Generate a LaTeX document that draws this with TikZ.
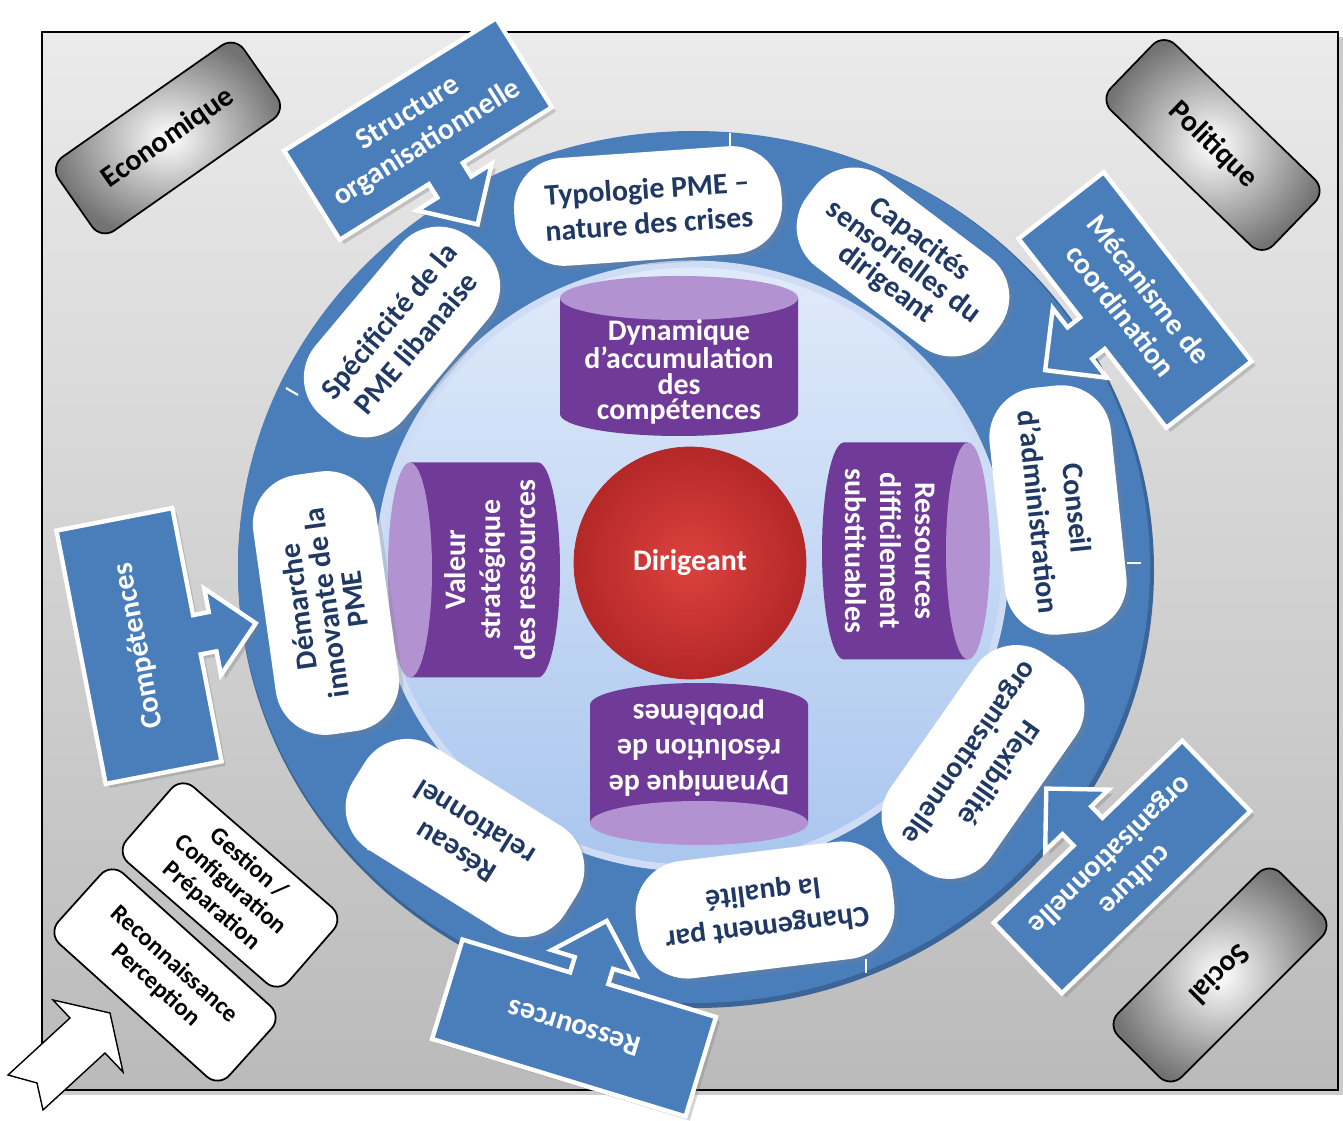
\documentclass[tikz,border=0pt]{standalone}
\usepackage{fontspec}
\setmainfont{Carlito}
\usetikzlibrary{shadows}

\definecolor{ringblue}{RGB}{74,126,187}
\definecolor{pillnavy}{RGB}{31,56,100}
\definecolor{cylbody}{RGB}{112,58,152}
\definecolor{cylend}{RGB}{178,146,208}
\definecolor{discrim}{RGB}{206,221,245}
\definecolor{disctop}{RGB}{224,234,250}
\definecolor{discbot}{RGB}{170,198,238}
\definecolor{redin}{RGB}{220,66,62}
\definecolor{redout}{RGB}{180,40,40}

\newlength{\pxu}\setlength{\pxu}{0.02cm}

% blue box with an arrow leaving its lower side
\newcommand{\bluecallout}[7]{%
  \begin{scope}[shift={(#2,#3)},rotate=#4]
    \filldraw[callbox] (-#5/2,#6/2) -- (#5/2,#6/2) -- (#5/2,-#6/2)
      -- (20,-#6/2) -- (20,-#6/2-16) -- (44,-#6/2-16) -- (0,-#6/2-60)
      -- (-44,-#6/2-16) -- (-20,-#6/2-16) -- (-20,-#6/2) -- (-#5/2,-#6/2) -- cycle;
    \node[calltext,rotate=#4] (#1) at (0,0) {#7};
  \end{scope}}

% purple cylinder, its lid on the local top side
\newcommand{\purplecyl}[8][]{%
  \begin{scope}[shift={(#3,#4)},rotate=#5]
    \fill[cylbody] (-#6/2,#7/2-22) -- (-#6/2,-#7/2+22)
      arc[start angle=180,end angle=360,x radius=#6/2,y radius=22] -- (#6/2,#7/2-22) -- cycle;
    \fill[cylend] (0,#7/2-22) ellipse [x radius=#6/2,y radius=22];
    \node[cyltext,rotate=#5,#1] (#2) at (0,-16) {#8};
  \end{scope}}

\begin{document}
\begin{tikzpicture}
  [x=0.02cm,y=0.02cm,align=center,
   bgframe/.style={draw=black,line width=0.8pt,top color=black!8,bottom color=black!27,
     drop shadow={opacity=0.4,shadow xshift=3pt,shadow yshift=-3pt}},
   pill/.style 2 args={fill=white,rounded corners=50\pxu,minimum width=#1\pxu,
     minimum height=#2\pxu,inner sep=1pt,text=pillnavy,
     font=\fontsize{17}{20}\selectfont\bfseries,drop shadow={opacity=0.25}},
   cyltext/.style={text=white,inner sep=1pt,font=\fontsize{17}{20}\selectfont\bfseries},
   callbox/.style={fill=ringblue,draw=white,line width=2.5pt,drop shadow={opacity=0.35}},
   calltext/.style={text=white,font=\fontsize{17}{20}\selectfont\bfseries},
   graybox/.style 2 args={draw=black,line width=1pt,rounded corners=16\pxu,
     inner color=white,outer color=black!55,minimum width=#1\pxu,minimum height=#2\pxu,
     font=\fontsize{17}{20}\selectfont\bfseries},
   whitebox/.style 2 args={draw=black,line width=1pt,fill=white,rounded corners=16\pxu,
     minimum width=#1\pxu,minimum height=#2\pxu,font=\fontsize{14}{16}\selectfont\bfseries},
   ringtick/.style={draw=white,line width=1.2pt}]

  \useasboundingbox (0,0) rectangle (1343,1120);
  \path[bgframe] (42,30) rectangle (1338,1088);

  % ring and inner disc
  \fill[ringblue!80!black] (696,550) ellipse [x radius=458,y radius=438];
  \fill[ringblue] (694,553) ellipse [x radius=456,y radius=436];
  \path[top color=disctop,bottom color=discbot,draw=discrim,line width=4pt]
    (692,554) ellipse [x radius=313,y radius=302];

  % cylinders round the centre
  \purplecyl[font=\fontsize{17}{14.5}\selectfont\bfseries]{accum}{679}{764}{0}{238}{160}
    {Dynamique\\d’accumulation\\des\\compétences}
  \purplecyl{resol}{699}{356}{180}{218}{162}{Dynamique de\\résolution de\\problèmes}
  \purplecyl{valeur}{474}{550}{90}{215}{172}{Valeur\\stratégique\\des ressources}
  \purplecyl{substit}{906}{569}{-90}{217}{168}{Ressources\\difficilement\\substituables}

  \node[circle,draw=redout,line width=0.4pt,minimum size=232\pxu,inner color=redin,
    outer color=redout,text=white,font=\fontsize{17}{20}\selectfont\bfseries]
    (dirigeant) at (690,557) {Dirigeant};

  % pills on the ring
  \node[pill={268}{108},rotate=4] (typo) at (648,914) {Typologie PME --\\nature des crises};
  \node[pill={232}{112},rotate=-37,font=\fontsize{17}{16}\selectfont\bfseries] (capa) at (903,858)
    {Capacités\\sensorielles du\\dirigeant};
  \node[pill={248}{122},rotate=-84,font=\fontsize{17}{22}\selectfont\bfseries] (conseil) at (1058,610)
    {Conseil\\d’administration};
  \node[pill={248}{122},rotate=235] (flexi) at (983,358) {Flexibilité\\organisationnelle};
  \node[pill={258}{118},rotate=187] (qualite) at (765,210) {Changement par\\la qualité};
  \node[pill={250}{122},rotate=148] (reseau) at (465,282) {Réseau\\relationnel};
  \node[pill={262}{124},rotate=98,font=\fontsize{17}{16}\selectfont\bfseries] (demarche) at (326,517)
    {Démarche\\innovante de la\\PME};
  \node[pill={232}{115},rotate=50] (specif) at (402,788) {Spécificité de la\\PME libanaise};

  \draw[ringtick] (730,987) -- (730,974);
  \draw[ringtick] (1127,557) -- (1141,557);
  \draw[ringtick] (866,161) -- (866,147);
  \draw[ringtick] (286,732) -- (298,725);
  \draw[ringtick] (368,270) -- (372,277);

  % blue callouts
  \bluecallout{structure}{418}{991}{32}{250}{105}{Structure\\organisationnelle}
  \bluecallout{mecanisme}{1135}{820}{-52}{240}{108}{Mécanisme de\\coordination}
  \bluecallout{competences}{139}{474}{101}{258}{118}{Compétences}
  \bluecallout{ressources}{574}{92}{163}{265}{104}{Ressources}
  \bluecallout{culture}{1122}{253}{224}{262}{98}{culture\\organisationnelle}

  % environment boxes
  \node[graybox={226}{90},rotate=35] (eco) at (168,982) {Economique};
  \node[graybox={226}{92},rotate=-44] (poli) at (1213,975) {Politique};
  \node[graybox={230}{90},rotate=225] (social) at (1220,145) {Social};

  \node[whitebox={215}{100},rotate=-41] (gestion) at (230,235) {Gestion /\\Configuration\\Préparation};
  \node[whitebox={230}{95},rotate=-42] (reconn) at (165,145) {Reconnaissance\\Perception};

  \filldraw[fill=white,draw=black,line width=0.8pt] (8,45) -- (70,102) -- (53,120) -- (110,107)
    -- (123,48) -- (105,67) -- (43,10) -- (37,37) -- cycle;
\end{tikzpicture}
\end{document}
